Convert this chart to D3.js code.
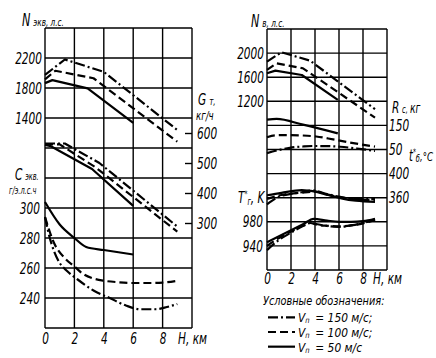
<!DOCTYPE html>
<html><head><meta charset="utf-8">
<script src="https://cdn.jsdelivr.net/npm/d3@7/dist/d3.min.js"></script>
<style>
html,body{margin:0;padding:0;background:#fff;}
svg text{font-family:"DejaVu Sans",sans-serif;font-style:italic;fill:#000;}
</style></head>
<body><svg id="c" width="436" height="358"></svg>
<script>
// ---- data (H in km, value) ----
const hTicks = [0,2,4,6,8,10];
const speeds = ["150","100","50"];
// left panel
const nEkv150 = [[0,1975],[1.35,2180],[4,2015],[9,1240]];
const nEkv100 = [[0,1915],[0.7,2030],[3.3,1930],[9,1085]];
const nEkv50  = [[0,1865],[0.5,1905],[2.9,1795],[6,1335]];
const gT150 = [[0,565],[1.35,565],[3.7,500],[9,288]];
const gT100 = [[0,562],[1.0,562],[3.4,487],[9,271]];
const gT50  = [[0,560],[0.4,556],[3.2,480],[6,357]];
const cEkv150 = [[0,294],[0.3,281],[0.9,265],[1.5,258],[2.2,252.5],[3.3,245],[4.4,240],[5.5,235],[6.5,232.5],[7.5,232.5],[8.3,234],[9,236]];
const cEkv100 = [[0,294],[0.6,277],[1.4,266],[2,261],[2.6,256],[3.3,253],[4,251.5],[5,250.5],[6,250],[7,250],[8,250.3],[9,251.5]];
const cEkv50  = [[0,304],[1,289],[2,280],[2.8,274],[4,272],[5,270.5],[6,269]];
const nTicks = [1400,1800,2200];
const gTicks = [300,400,500,600];
const cTicks = [240,260,280,300];
// right panel
const nB150 = [[0,1858],[1.2,2014],[3.6,1874],[9,1069]];
const nB100 = [[0,1720],[0.8,1831],[3.0,1748],[9,929]];
const nB50  = [[0,1665],[0.7,1709],[2.9,1637],[5.9,1223]];
const rc150 = [[0,35],[1,48],[1.9,57],[3,62.5],[3.8,64.5],[5,64],[6.1,61.5],[7.5,54],[9,44]];
const rc100 = [[0,101],[0.7,109],[1.4,110],[3,108],[4.1,104],[5.5,92],[6.9,79],[9,62]];
const rc50  = [[0,174],[0.8,177],[3,153],[5.9,117]];
const tB150 = [[0,349],[1,361.5],[2.9,369],[3.8,372],[5,366],[6.2,361],[7.5,358],[9,357.5]];
const tB100 = [[0,358],[1.2,364.5],[2.9,368.5],[4,370],[5,365.5],[6.2,360],[7.4,357],[9,356]];
const tB50  = [[0,364],[1.2,368],[2.9,372.5],[4,370],[5.1,364.5],[6.2,359],[7.4,355],[9,353]];
const tG150 = [[0,933],[1,950],[2,962],[3,973],[3.6,978],[4.2,976],[5,973],[6,971.5],[7,974],[8,978],[9,984]];
const tG100 = [[0,940],[1,953],[2,964],[3,974],[3.6,978],[4.2,975],[5,973.5],[6,972.5],[7,974],[8,977.5],[9,983]];
const tG50  = [[0,946],[1,956],[2,966],[3,976],[3.9,985],[5,982],[6,980],[7,980],[8,981],[9,985]];
const nBTicks = [1200,1600,2000];
const rcTicks = [50,150];
const tBTicks = [360,400];
const tGTicks = [940,980];

const dash = {"150":"10,3,2,3","100":"8,4","50":null};
const svg = d3.select("#c");
const ink = "#000";

function grid(g, x, rows){
  g.selectAll("line.v").data(hTicks).join("line").attr("class","v")
    .attr("x1",d=>x(d)).attr("x2",d=>x(d)).attr("y1",rows(0)).attr("y2",rows(10))
    .attr("stroke",ink).attr("stroke-width",1.4);
  g.selectAll("line.h").data(d3.range(11)).join("line").attr("class","h")
    .attr("x1",x(0)).attr("x2",x(10)).attr("y1",d=>rows(d)).attr("y2",d=>rows(d))
    .attr("stroke",ink).attr("stroke-width",1.4);
}
function curve(g, data, x, y, sp, smooth){
  const line = d3.line().x(d=>x(d[0])).y(d=>y(d[1])).curve(smooth?d3.curveMonotoneX:d3.curveLinear);
  g.append("path").attr("d",line(data)).attr("fill","none").attr("stroke",ink)
    .attr("stroke-width",2.2).attr("stroke-dasharray",dash[sp]).attr("stroke-linejoin","round");
}
function styleAxis(sel, size){
  sel.select(".domain").remove();
  sel.selectAll("text").attr("font-size",size).attr("fill",ink).attr("font-family",null);
  sel.selectAll(".tick line").attr("stroke",ink).attr("stroke-width",1.4);
}

// ---------- LEFT PANEL ----------
const xL = d3.scaleLinear().domain([0,10]).range([45,192]);
const rowsL = d3.scaleLinear().domain([0,10]).range([328,28]);
const yN = d3.scaleLinear().domain([1000,2600]).range([rowsL(6),rowsL(10)]);
const yG = d3.scaleLinear().domain([250,650]).range([238,118]);
const yC = d3.scaleLinear().domain([220,320]).range([rowsL(0),rowsL(5)]);
const gL = svg.append("g");
grid(gL, xL, rowsL);
[[nEkv150,"150"],[nEkv100,"100"],[nEkv50,"50"]].forEach(([d,s])=>curve(gL,d,xL,yN,s,false));
[[gT150,"150"],[gT100,"100"],[gT50,"50"]].forEach(([d,s])=>curve(gL,d,xL,yG,s,false));
[[cEkv150,"150"],[cEkv100,"100"],[cEkv50,"50"]].forEach(([d,s])=>curve(gL,d,xL,yC,s,true));

gL.append("g").attr("transform",`translate(${xL(0)},0)`)
  .call(d3.axisLeft(yN).tickValues(nTicks).tickSize(0).tickPadding(3).tickFormat(d3.format("d")))
  .call(s=>styleAxis(s,16));
gL.append("g").attr("transform",`translate(${xL(0)},0)`)
  .call(d3.axisLeft(yC).tickValues(cTicks).tickSize(0).tickPadding(5).tickFormat(d3.format("d")))
  .call(s=>styleAxis(s,16));
gL.append("g").attr("transform",`translate(${xL(10)},0)`)
  .call(d3.axisRight(yG).tickValues(gTicks).tickSizeInner(-7).tickSizeOuter(0).tickPadding(5).tickFormat(d3.format("d")))
  .call(s=>styleAxis(s,16));
gL.append("g").attr("transform",`translate(0,${rowsL(0)})`)
  .call(d3.axisBottom(xL).tickValues(hTicks).tickSize(0).tickPadding(5).tickFormat(d=>d===10?"H, км":d))
  .call(s=>styleAxis(s,16));

function label(x,y,main,sub,mainSize,subSize,rest,restSize){
  const t = svg.append("text").attr("x",x).attr("y",y).attr("font-size",mainSize).text(main);
  if(sub) t.append("tspan").attr("font-size",subSize).attr("dx",1).text(sub);
  if(rest) t.append("tspan").attr("font-size",restSize).text(rest);
  return t;
}
label(22,26,"N"," экв, л.с.",17,11);
label(15,180,"C"," экв.",16,10);
label(9,194,"г/э.л.с.ч",null,10,10);
label(198,105,"G"," т,",16,11);
label(196,120,"кг/ч",null,13,13);

// ---------- RIGHT PANEL ----------
const xR = d3.scaleLinear().domain([0,10]).range([267,387]);
const rowsR = d3.scaleLinear().domain([0,10]).range([270,29]);
const yNb = d3.scaleLinear().domain([1200,2400]).range([rowsR(7),rowsR(10)]);
const yRc = d3.scaleLinear().domain([50,250]).range([rowsR(5),rowsR(7)]);
const yTb = d3.scaleLinear().domain([360,400]).range([rowsR(3),rowsR(4)]);
const yTg = d3.scaleLinear().domain([940,980]).range([rowsR(1),rowsR(2)]);
const gR = svg.append("g");
grid(gR, xR, rowsR);
[[nB150,"150"],[nB100,"100"],[nB50,"50"]].forEach(([d,s])=>curve(gR,d,xR,yNb,s,false));
[[rc150,"150"],[rc100,"100"],[rc50,"50"]].forEach(([d,s])=>curve(gR,d,xR,yRc,s,true));
[[tB150,"150"],[tB100,"100"],[tB50,"50"]].forEach(([d,s])=>curve(gR,d,xR,yTb,s,true));
[[tG150,"150"],[tG100,"100"],[tG50,"50"]].forEach(([d,s])=>curve(gR,d,xR,yTg,s,true));

gR.append("g").attr("transform",`translate(${xR(0)},0)`)
  .call(d3.axisLeft(yNb).tickValues(nBTicks).tickSize(0).tickPadding(3).tickFormat(d3.format("d")))
  .call(s=>styleAxis(s,16));
gR.append("g").attr("transform",`translate(${xR(0)},0)`)
  .call(d3.axisLeft(yTg).tickValues(tGTicks).tickSize(0).tickPadding(4).tickFormat(d3.format("d")))
  .call(s=>styleAxis(s,16));
gR.append("g").attr("transform",`translate(${xR(10)},0)`)
  .call(d3.axisRight(yRc).tickValues(rcTicks).tickSize(0).tickPadding(2).tickFormat(d3.format("d")))
  .call(s=>styleAxis(s,16));
gR.append("g").attr("transform",`translate(${xR(10)},0)`)
  .call(d3.axisRight(yTb).tickValues(tBTicks).tickSize(0).tickPadding(2).tickFormat(d3.format("d")))
  .call(s=>styleAxis(s,16));
gR.append("g").attr("transform",`translate(0,${rowsR(0)})`)
  .call(d3.axisBottom(xR).tickValues(hTicks).tickSize(0).tickPadding(3).tickFormat(d=>d===10?"H, км":d))
  .call(s=>styleAxis(s,16));

label(251,27,"N"," в, л.с.",17,11);
label(392,113,"R"," с, ",16,10,"кг",14);
(function(){
  const t = svg.append("text").attr("x",409).attr("y",161).attr("font-size",15).text("t");
  t.append("tspan").attr("font-size",9).attr("dy",-6).text("*");
  t.append("tspan").attr("font-size",10).attr("dy",7).text("б");
  t.append("tspan").attr("font-size",13).attr("dy",-1).text(",°С");
  const T = svg.append("text").attr("x",264).attr("y",203).attr("text-anchor","end").attr("font-size",16).text("T");
  T.append("tspan").attr("font-size",9).attr("dy",-6).text("*");
  T.append("tspan").attr("font-size",10).attr("dy",8).text("г");
  T.append("tspan").attr("font-size",16).attr("dy",-2).text(", K");
})();

// ---------- LEGEND ----------
svg.append("text").attr("x",263).attr("y",305).attr("font-size",13).attr("data-sx",0.75).text("Условные обозначения:");
const legY = d3.scaleBand().domain(speeds).range([310,354]);
const leg = svg.append("g").selectAll("g").data(speeds).join("g")
  .attr("transform",d=>`translate(0,${legY(d)+legY.bandwidth()/2})`);
leg.append("line").attr("x1",268).attr("x2",295).attr("y1",0).attr("y2",0)
  .attr("stroke",ink).attr("stroke-width",2.2).attr("stroke-dasharray",d=>dash[d]);
const lt = leg.append("text").attr("x",298).attr("y",5).attr("font-size",13).attr("data-sx",0.82);
lt.append("tspan").text("V");
lt.append("tspan").attr("font-size",8).attr("dy",1).text("п");
lt.append("tspan").attr("dx",7).attr("dy",-1).text(d=>"= "+d+" м/с"+(d==="50"?"":";"));

// narrow the lettering like the drawing's condensed type
svg.selectAll("text").each(function(){
  const sx = +(this.getAttribute("data-sx") || 0.66);
  const b = this.getBBox();
  const a = getComputedStyle(this).textAnchor;
  const ox = a==="end" ? b.x+b.width : a==="middle" ? b.x+b.width/2 : b.x;
  const prev = this.getAttribute("transform") || "";
  this.setAttribute("transform", `${prev} translate(${ox},0) scale(${sx},1) translate(${-ox},0)`.trim());
});
</script></body></html>
